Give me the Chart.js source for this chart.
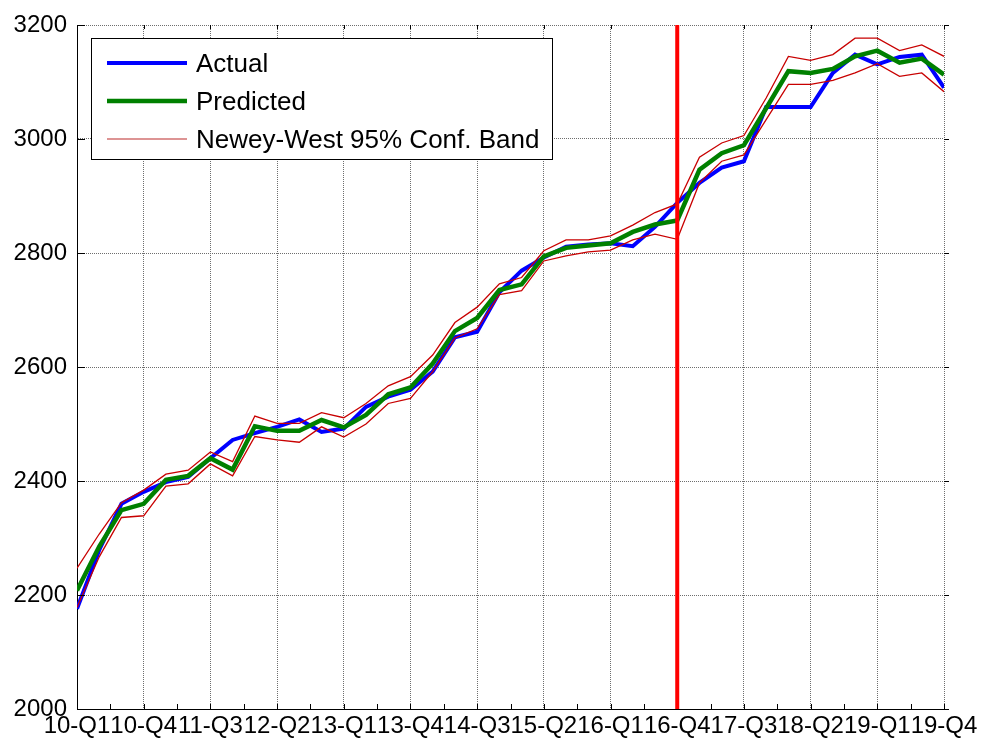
<!DOCTYPE html>
<html>
<head>
<meta charset="utf-8">
<script src="https://cdn.jsdelivr.net/npm/chart.js@4.4.0/dist/chart.umd.min.js"></script>
<style>
  html, body { margin: 0; padding: 0; background: #fff; }
  #wrap { width: 981px; height: 743px; }
</style>
</head>
<body>
<div id="wrap"><canvas id="chart" width="981" height="743"></canvas></div>
<script>
// quarters on the x axis
const quarters = [
    "10-Q1", "10-Q2", "10-Q3", "10-Q4", "11-Q1", "11-Q2", "11-Q3", "11-Q4",
    "12-Q1", "12-Q2", "12-Q3", "12-Q4", "13-Q1", "13-Q2", "13-Q3", "13-Q4",
    "14-Q1", "14-Q2", "14-Q3", "14-Q4", "15-Q1", "15-Q2", "15-Q3", "15-Q4",
    "16-Q1", "16-Q2", "16-Q3", "16-Q4", "17-Q1", "17-Q2", "17-Q3", "17-Q4",
    "18-Q1", "18-Q2", "18-Q3", "18-Q4", "19-Q1", "19-Q2", "19-Q3", "19-Q4"
];

const actual = [
    2176, 2279, 2360, 2381, 2398, 2407, 2440, 2472, 2484, 2495,
    2508, 2486, 2492, 2530, 2548, 2560, 2592, 2652, 2662, 2731,
    2769, 2792, 2811, 2815, 2817, 2812, 2846, 2888, 2923, 2950,
    2961, 3056, 3056, 3056, 3116, 3148, 3131, 3144, 3148, 3090
];

const predicted = [
    2208, 2285, 2349, 2360, 2402, 2409, 2440, 2420, 2496, 2488,
    2488, 2507, 2494, 2516, 2552, 2564, 2606, 2663, 2686, 2735,
    2745, 2794, 2809, 2813, 2817, 2837, 2850, 2857, 2946, 2975,
    2989, 3054, 3119, 3116, 3123, 3145, 3155, 3134, 3141, 3113
];

const bandUpper = [
    2247, 2307, 2362, 2384, 2412, 2419, 2451, 2434, 2514, 2501,
    2501, 2520, 2511, 2536, 2567, 2583, 2621, 2678, 2705, 2746,
    2757, 2804, 2823, 2823, 2830, 2849, 2871, 2886, 2968, 2993,
    3006, 3072, 3145, 3138, 3148, 3177, 3177, 3155, 3165, 3145
];

const bandLower = [
    2178, 2267, 2336, 2339, 2391, 2395, 2430, 2409, 2478, 2472,
    2468, 2495, 2477, 2500, 2536, 2545, 2592, 2651, 2667, 2727,
    2734, 2786, 2795, 2802, 2805, 2823, 2833, 2824, 2923, 2961,
    2972, 3034, 3096, 3096, 3103, 3116, 3132, 3110, 3116, 3083
];

const xTickLabels = ["10-Q1", "10-Q4", "11-Q3", "12-Q2", "13-Q1", "13-Q4", "14-Q3",
    "15-Q2", "16-Q1", "16-Q4", "17-Q3", "18-Q2", "19-Q1", "19-Q4"];
const yTicks = [2000, 2200, 2400, 2600, 2800, 3000, 3200];
const breakQuarter = "16-Q4";

const FONT = "'Liberation Sans', Arial, sans-serif";

const toPoints = arr => arr.map((v, i) => ({ x: i, y: v }));

// ticks, red break line and the boxed legend
const overlay = {
    id: "overlay",
    afterDatasetsDraw(chart) {
        const { ctx, chartArea: a, scales: { x, y } } = chart;
        ctx.save();

        // small inward tick marks
        ctx.strokeStyle = "#000";
        ctx.lineWidth = 1;
        ctx.beginPath();
        yTicks.forEach(v => {
            const py = Math.round(y.getPixelForValue(v)) + 0.5;
            ctx.moveTo(a.left, py); ctx.lineTo(a.left + 8, py);
            ctx.moveTo(a.right, py); ctx.lineTo(a.right + 5, py);
        });
        for (let i = 0; i < quarters.length; i += 1.5) {
            const px = Math.round(x.getPixelForValue(i)) + 0.5;
            ctx.moveTo(px, a.bottom); ctx.lineTo(px, a.bottom - 5);
        }
        for (let i = 0; i < quarters.length; i += 3) {
            const px = Math.round(x.getPixelForValue(i)) + 0.5;
            ctx.moveTo(px, a.top); ctx.lineTo(px, a.top + 4);
        }
        ctx.stroke();

        // red vertical line
        const bx = x.getPixelForValue(quarters.indexOf(breakQuarter));
        ctx.strokeStyle = "#ff0000";
        ctx.lineWidth = 4;
        ctx.beginPath();
        ctx.moveTo(bx, a.top);
        ctx.lineTo(bx, a.bottom);
        ctx.stroke();

        // legend
        const seen = [];
        const items = chart.data.datasets.filter(ds => {
            if (seen.includes(ds.label)) return false;
            seen.push(ds.label);
            return true;
        });
        const bx0 = a.left + 14, by0 = a.top + 13, bw = 461, bh = 121;
        ctx.fillStyle = "#fff";
        ctx.fillRect(bx0, by0, bw, bh);
        ctx.strokeStyle = "#000";
        ctx.lineWidth = 1;
        ctx.strokeRect(bx0 + 0.5, by0 + 0.5, bw, bh);
        ctx.font = "26px " + FONT;
        ctx.textBaseline = "middle";
        items.forEach((ds, k) => {
            const ly = by0 + 25 + k * 38;
            ctx.strokeStyle = ds.legendColor || ds.borderColor;
            ctx.lineWidth = ds.borderWidth;
            ctx.beginPath();
            ctx.moveTo(bx0 + 16, ly);
            ctx.lineTo(bx0 + 96, ly);
            ctx.stroke();
            ctx.fillStyle = "#000";
            ctx.fillText(ds.label, bx0 + 105, ly + 2);
        });

        ctx.restore();
    }
};

const ctx = document.getElementById("chart").getContext("2d");
new Chart(ctx, {
    type: "line",
    data: {
        datasets: [
            { label: "Actual", data: toPoints(actual), borderColor: "#0000ff", borderWidth: 4, order: 3 },
            { label: "Predicted", data: toPoints(predicted), borderColor: "#008000", borderWidth: 4.5, order: 2 },
            { label: "Newey-West 95% Conf. Band", data: toPoints(bandUpper), borderColor: "#c80000", legendColor: "#d27070", borderWidth: 1.3, order: 1 },
            { label: "Newey-West 95% Conf. Band", data: toPoints(bandLower), borderColor: "#c80000", borderWidth: 1.3, order: 1 }
        ]
    },
    options: {
        responsive: false,
        animation: false,
        devicePixelRatio: 1,
        layout: { padding: { top: 25, right: 37, left: 0, bottom: 0 } },
        elements: {
            point: { radius: 0 },
            line: { tension: 0, borderJoinStyle: "miter", fill: false }
        },
        plugins: {
            legend: { display: false },
            tooltip: { enabled: false }
        },
        scales: {
            x: {
                type: "linear",
                min: 0,
                max: quarters.length - 1,
                afterBuildTicks: scale => {
                    scale.ticks = xTickLabels.map(l => ({ value: quarters.indexOf(l) }));
                },
                afterFit: scale => { scale.height = 34; },
                ticks: {
                    autoSkip: false,
                    maxRotation: 0,
                    padding: 3,
                    color: "#000",
                    font: { family: FONT, size: 24 },
                    callback: v => quarters[v]
                },
                grid: { color: "#6e6e6e", lineWidth: 1, drawTicks: false },
                border: { display: true, color: "#000", width: 1, dash: [1, 1] }
            },
            y: {
                min: 2000,
                max: 3200,
                afterBuildTicks: scale => {
                    scale.ticks = yTicks.map(v => ({ value: v }));
                },
                afterFit: scale => { scale.width = 77; },
                ticks: {
                    padding: 10,
                    color: "#000",
                    font: { family: FONT, size: 24 },
                    callback: v => String(v)
                },
                grid: { color: "#6e6e6e", lineWidth: 1, drawTicks: false },
                border: { display: true, color: "#000", width: 1, dash: [1, 1] }
            }
        }
    },
    plugins: [overlay]
});
</script>
</body>
</html>
